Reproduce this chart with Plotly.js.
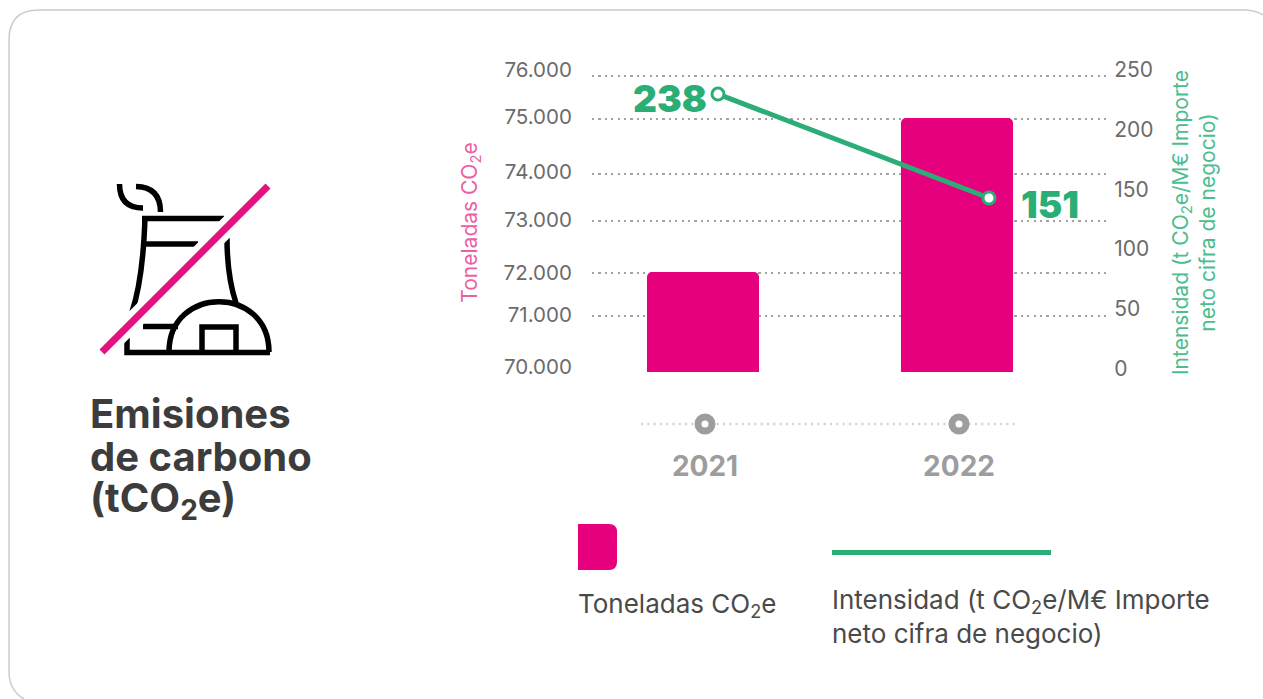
<!DOCTYPE html>
<html><head><meta charset="utf-8">
<script src="https://cdn.plot.ly/plotly-3.0.1.min.js"></script>
<style>html,body{margin:0;padding:0;background:#fff}#c{width:1263px;height:699px}</style>
</head><body><div id="c"></div>
<script>
// ---- data ----
const years = [2021, 2022];
const toneladas = [72000, 75000];
const intensidad = [238, 151];
const leftLabels = ['76.000','75.000','74.000','73.000','72.000','71.000','70.000'];
// the source axis is unevenly spaced: where each gridline and each label actually sits, in axis units
const leftGridAt = [75818, 74981, 73909, 72993, 71980, 71143, 70052];
const leftLabelAt = [75935, 75019, 73948, 73013, 71980, 71162, 70150];
const rightTicks = [0, 50, 100, 150, 200, 250];
const timelineEnds = [2020.748, 2022.225];

// ---- style ----
const W = 1263, H = 699;
const FONT = 'Inter, "Noto Sans", sans-serif';
const PINK = '#e6007e', GREEN = '#2bae76', GREY = '#9d9d9d', INK = '#3c3c3c', TICK = '#6b6b6b';
const px = x => x / W, py = y => 1 - y / H;
const P = (x, y) => px(x).toFixed(5) + ',' + py(y).toFixed(5);
const xDom = [px(592), px(1098)];
const stroke = (path, color, width) => ({type:'path', xref:'paper', yref:'paper', path, line:{color, width}, layer:'above'});

const card = 'M' + P(24,699) + ' Q' + P(9,690) + ' ' + P(9,672) + ' L' + P(9,40) + ' Q' + P(9,10) + ' ' + P(39,10) + ' L' + P(1247,10) + ' Q' + P(1257,11) + ' ' + P(1263,15);
const K = '#000';
const icon = [
  'M' + P(119.5,184) + ' Q' + P(119.5,208) + ' ' + P(143,208),
  'M' + P(136,186.5) + ' Q' + P(160.5,187) + ' ' + P(160.5,212),
  'M' + P(142,218.5) + ' L' + P(224,218.5),
  'M' + P(145,244) + ' L' + P(198,244),
  'M' + P(145,217) + ' C' + P(144,250) + ' ' + P(141,285) + ' ' + P(132,312),
  'M' + P(227,238) + ' C' + P(227,265) + ' ' + P(230,285) + ' ' + P(236,303),
  'M' + P(127,338) + ' L' + P(127,352.5) + ' L' + P(270,352.5),
  'M' + P(143,326.5) + ' L' + P(178,326.5),
  'M' + P(169,352) + ' C' + P(169,285) + ' ' + P(269,285) + ' ' + P(269,352),
  'M' + P(202,352) + ' L' + P(202,327) + ' L' + P(236,327) + ' L' + P(236,352)
].map(d => stroke(d, K, 5.5));
const slash = 'M' + P(102,352) + ' L' + P(268,186);
const swatch = 'M' + P(578,524) + ' L' + P(609,524) + ' Q' + P(617,524) + ' ' + P(617,532) + ' L' + P(617,562) + ' Q' + P(617,570) + ' ' + P(609,570) + ' L' + P(578,570) + ' Z';

const txt = (text, x, y, size, color, weight) => ({
  text, xref:'paper', yref:'paper', x:px(x), y:py(y), xanchor:'left', yanchor:'middle', align:'left',
  showarrow:false, font:{family:FONT, size, color, weight:weight||400}
});

const traces = [
  {type:'bar', x:years, y:toneladas, width:0.441, marker:{color:PINK}, xaxis:'x', yaxis:'y', name:'Toneladas CO2e', hoverinfo:'skip'},
  {type:'scatter', mode:'markers', x:years, y:toneladas, xaxis:'x', yaxis:'y3', marker:{opacity:0}, hoverinfo:'skip'},
  {type:'scatter', mode:'lines+markers', x:years, y:intensidad, xaxis:'x2', yaxis:'y2', name:'Intensidad',
    line:{color:GREEN, width:5}, marker:{size:12, color:'#fff', line:{color:GREEN, width:3}}, hoverinfo:'skip'},
  {type:'scatter', mode:'lines', x:timelineEnds, y:[0,0], xaxis:'x3', yaxis:'y4', line:{color:'#d2d2d2', width:2.4, dash:'2px,4.3px'}, hoverinfo:'skip'},
  {type:'scatter', mode:'markers', x:years, y:[0,0], xaxis:'x3', yaxis:'y4', marker:{size:14, color:'#fff', line:{color:GREY, width:7}}, hoverinfo:'skip'}
];

const layout = {
  width:W, height:H, margin:{l:0,r:0,t:0,b:0}, showlegend:false, paper_bgcolor:'#fff', plot_bgcolor:'rgba(0,0,0,0)',
  font:{family:FONT}, barcornerradius:5,
  xaxis:{domain:[px(592), px(1107)], range:[2020.563,2022.5906], showgrid:false, zeroline:false, showticklabels:false, ticks:'', anchor:'y'},
  yaxis:{domain:[py(372),py(60)], range:[70052,76130], tickmode:'array', tickvals:leftGridAt, ticktext:leftLabels, showticklabels:false,
    showgrid:true, gridcolor:'#a3a3a3', gridwidth:2.5, griddash:'2.2px,4.2px', zeroline:false, ticks:'', anchor:'x'},
  yaxis3:{domain:[py(385),py(60)], range:[69799,76130], tickmode:'array', tickvals:leftLabelAt, ticktext:leftLabels,
    showgrid:false, zeroline:false, ticks:'outside', ticklen:15, tickcolor:'rgba(0,0,0,0)', ticklabelshift:1.5, tickfont:{family:FONT,size:20.5,color:TICK},
    title:{text:'Toneladas CO<sub>2</sub>e', standoff:20, font:{family:FONT,size:21,color:'#ec5fa5'}}, anchor:'x'},
  xaxis2:{domain:xDom, range:[2020.5351,2022.4022], visible:false, anchor:'y2'},
  yaxis2:{domain:[py(385),py(60)], range:[-5.44,266.5], side:'right', anchor:'x2', tickmode:'array', tickvals:rightTicks,
    showgrid:false, zeroline:false, ticks:'outside', ticklen:11, tickcolor:'rgba(0,0,0,0)', ticklabelshift:-10, tickfont:{family:FONT,size:21,color:TICK},
    title:{text:'Intensidad (t CO<sub>2</sub>e/M€ Importe<br>neto cifra de negocio)', standoff:20, font:{family:FONT,size:21,color:'#4cbd8c'}}},
  xaxis3:{domain:xDom, range:[2020.5551,2022.5472], anchor:'y4', tickmode:'array', tickvals:years, ticktext:years.map(String), showgrid:false, zeroline:false,
    showline:false, ticks:'outside', ticklen:1, tickcolor:'rgba(0,0,0,0)', tickfont:{family:FONT,size:28,color:GREY,weight:700}},
  yaxis4:{domain:[py(440),py(408)], range:[-1,1], visible:false, anchor:'x3'},
  shapes:[
    {type:'path', xref:'paper', yref:'paper', path:card, line:{color:'#cccccc', width:1.5}, layer:'below'},
    ...icon,
    stroke(slash,'#fff',19),
    stroke(slash,'#e2127f',7),
    {type:'path', xref:'paper', yref:'paper', path:swatch, fillcolor:PINK, line:{width:0}},
    {type:'line', xref:'paper', yref:'paper', x0:px(832), x1:px(1051), y0:py(552.5), y1:py(552.5), line:{color:GREEN, width:5}}
  ],
  annotations:[
    {text:String(intensidad[0]), xref:'x2', yref:'y2', x:years[0], y:intensidad[0], xanchor:'right', yanchor:'middle', xshift:-9, yshift:-4, showarrow:false, font:{family:FONT,size:37,color:GREEN,weight:900}},
    {text:String(intensidad[1]), xref:'x2', yref:'y2', x:years[1], y:intensidad[1], xanchor:'left', yanchor:'middle', xshift:30, yshift:-6, showarrow:false, font:{family:FONT,size:37,color:GREEN,weight:900}},
    txt('Emisiones', 88, 413, 40, INK, 700),
    txt('de carbono', 88, 456, 40, INK, 700),
    txt('(tCO<sub>2</sub>e)', 88, 500, 40, INK, 700),
    txt('Toneladas CO<sub>2</sub>e', 576, 605, 26, '#4a4a4a'),
    txt('Intensidad (t CO<sub>2</sub>e/M€ Importe<br>neto cifra de negocio)', 830, 616, 26, '#4a4a4a')
  ]
};
Plotly.newPlot('c', traces, layout, {displayModeBar:false, staticPlot:true});
</script></body></html>
